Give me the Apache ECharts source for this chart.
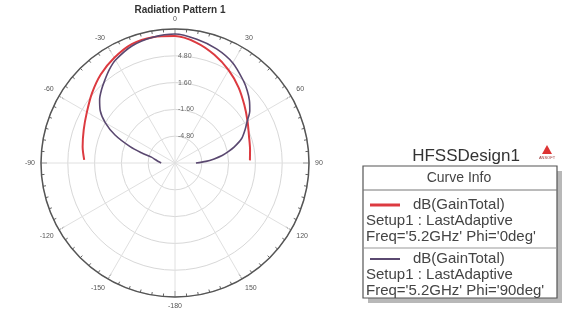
<!DOCTYPE html>
<html>
<head>
<meta charset="utf-8">
<script src="https://cdn.jsdelivr.net/npm/echarts@6/dist/echarts.min.js"></script>
<style>
html,body{margin:0;padding:0;background:#fff;}
#chart{width:565px;height:310px;}
</style>
</head>
<body>
<div id="chart"></div>
<script>
// Angles in degrees (0 = top, positive clockwise), gains in dB
const redAngles = [-88, -80, -70, -60, -50, -40, -30, -20, -10, 0, 10, 20, 30, 40, 50, 60, 70, 80, 88];
const redGain   = [2.85, 3.2, 3.6, 4.15, 4.95, 5.8, 6.5, 7.1, 7.25, 7.15, 6.6, 5.75, 4.8, 3.8, 2.8, 2.0, 1.4, 1.1, 0.95];
const purpleAngles = [-90, -85, -80, -76, -73, -70, -65, -60, -55, -50, -45, -40, -35, -30, -20, -10, 0, 10, 20, 30, 40, 45, 50, 55, 60, 65, 70, 75, 78, 81, 84, 87, 90];
const purpleGain   = [-6.35, -6.0, -5.6, -5.1, -3.8, -2.3, -0.1, 1.6, 2.9, 3.75, 4.4, 5.0, 5.65, 6.2, 6.9, 7.25, 7.4, 7.0, 6.5, 5.8, 4.75, 4.2, 3.6, 2.9, 1.95, 1.2, 0.45, -0.7, -1.5, -2.3, -3.3, -4.3, -5.5];
const radialTicks = [-8, -4.8, -1.6, 1.6, 4.8, 8];
const angleLabels = {0:'0',30:'30',60:'60',90:'90',120:'120',150:'150',180:'-180',210:'-150',240:'-120',270:'-90',300:'-60',330:'-30'};
const titleText = 'Radiation Pattern 1';
const designName = 'HFSSDesign1';
const curveNames = ['dB(GainTotal)', 'dB(GainTotal)'];
const curveSetup = ['Setup1 : LastAdaptive', 'Setup1 : LastAdaptive'];
const curveFreq = ["Freq='5.2GHz' Phi='0deg'", "Freq='5.2GHz' Phi='90deg'"];
const colors = ['#dc3a40', '#5a4870'];

function toPairs(angles, gains) {
  return angles.map((a, i) => [gains[i], a < 0 ? a + 360 : a]);
}

const chart = echarts.init(document.getElementById('chart'), null, {renderer: 'canvas'});
const font = 'Liberation Sans, Arial, sans-serif';

const legendGraphics = [
  {type:'rect', shape:{x:557, y:171, width:5, height:132}, style:{fill:'#b8b8b8'}},
  {type:'rect', shape:{x:368, y:298, width:194, height:5}, style:{fill:'#b8b8b8'}},
  {type:'rect', shape:{x:363, y:166, width:194, height:132}, style:{fill:'#fff', stroke:'#555', lineWidth:1.2}},
  {type:'line', shape:{x1:363, y1:190, x2:557, y2:190}, style:{stroke:'#777', lineWidth:1}},
  {type:'line', shape:{x1:363, y1:248, x2:557, y2:248}, style:{stroke:'#999', lineWidth:1}},
  {type:'text', style:{text:'Curve Info', x:459, y:178, fontSize:14, fontFamily:font, fill:'#444', textAlign:'center', textVerticalAlign:'middle'}},
  {type:'text', style:{text:designName, x:466, y:156, fontSize:17, fontFamily:font, fill:'#333', textAlign:'center', textVerticalAlign:'middle'}},
  {type:'polygon', shape:{points:[[547,145],[542,154],[552,154]]}, style:{fill:'#d33'}},
  {type:'text', style:{text:'ANSOFT', x:547, y:158, fontSize:4, fontFamily:font, fill:'#933', textAlign:'center', textVerticalAlign:'middle'}}
];
const rowY = [205, 259];
for (let i = 0; i < 2; i++) {
  legendGraphics.push({type:'line', shape:{x1:370, y1:rowY[i], x2:400, y2:rowY[i]}, style:{stroke:colors[i], lineWidth:i===0?3:2}});
  legendGraphics.push({type:'text', style:{text:curveNames[i], x:413, y:rowY[i], fontSize:15, fontFamily:font, fill:'#444', textVerticalAlign:'middle'}});
  legendGraphics.push({type:'text', style:{text:curveSetup[i], x:366, y:rowY[i]+16, fontSize:15, fontFamily:font, fill:'#444', textVerticalAlign:'middle'}});
  legendGraphics.push({type:'text', style:{text:curveFreq[i], x:366, y:rowY[i]+32, fontSize:15, fontFamily:font, fill:'#444', textVerticalAlign:'middle'}});
}

chart.setOption({
  animation: false,
  backgroundColor: '#fff',
  title: {
    text: titleText, left: 175, top: 0, textAlign: 'center',
    textStyle: {fontSize: 10, fontWeight: 'bold', color: '#333', fontFamily: font}
  },
  polar: {center: [175, 163], radius: 134},
  angleAxis: {
    type: 'value', min: 0, max: 360, interval: 30, startAngle: 90, clockwise: true,
    axisLine: {lineStyle: {color: '#555', width: 1.5}},
    axisTick: {show: true, inside: true, length: 6, lineStyle: {color: '#555', width: 1}},
    minorTick: {show: true, splitNumber: 6, length: 3, lineStyle: {color: '#666', width: 1}},
    splitLine: {show: true, lineStyle: {color: '#e0e0e0', width: 1}},
    axisLabel: {
      margin: 6, fontSize: 7, color: '#555', fontFamily: font,
      formatter: v => angleLabels[v] !== undefined ? angleLabels[v] : ''
    }
  },
  radiusAxis: {
    type: 'value', min: radialTicks[0], max: radialTicks[radialTicks.length - 1], interval: 3.2,
    axisLine: {show: false}, axisTick: {show: false},
    splitLine: {show: true, lineStyle: {color: '#d8d8d8', width: 1}},
    axisLabel: {
      showMinLabel: false, showMaxLabel: false, fontSize: 7, color: '#666', fontFamily: font,
      margin: -3, align: 'left', verticalAlign: 'middle',
      formatter: v => v.toFixed(2)
    }
  },
  series: [
    {type: 'line', coordinateSystem: 'polar', data: toPairs(redAngles, redGain), showSymbol: false, smooth: 0.3,
     lineStyle: {color: colors[0], width: 2}, itemStyle: {color: colors[0]}, z: 3},
    {type: 'line', coordinateSystem: 'polar', data: toPairs(purpleAngles, purpleGain), showSymbol: false, smooth: 0.3,
     lineStyle: {color: colors[1], width: 1.6}, itemStyle: {color: colors[1]}, z: 4}
  ],
  graphic: legendGraphics
});
</script>
</body>
</html>
